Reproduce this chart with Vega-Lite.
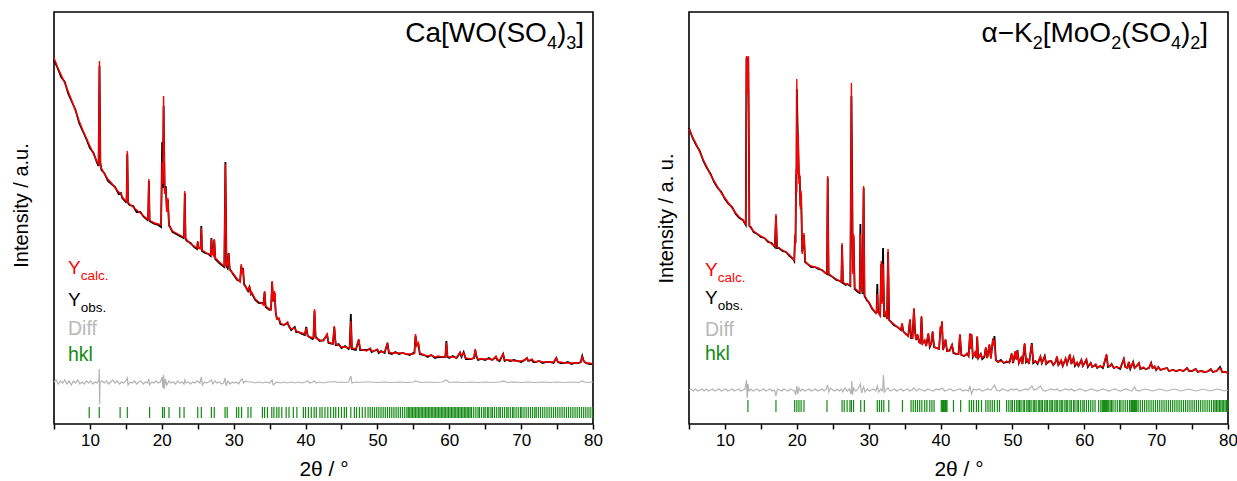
{
"$schema": "https://vega.github.io/schema/vega-lite/v6.json",
"padding": {"left": 10, "top": 11, "right": 5, "bottom": 0},
"spacing": 51,
"config": {"font": "Liberation Sans", "view": {"stroke": "black", "strokeWidth": 1.6},
 "axisX": {"values": [5,10,15,20,25,30,35,40,45,50,55,60,65,70,75,80], "labelExpr": "datum.value % 10 === 0 ? datum.label : ''", "labelFontSize": 17, "labelColor": "black", "tickColor": "black", "tickSize": 5, "tickWidth": 1.5, "domain": false, "grid": false, "labelPadding": 3, "labelFlush": false, "labelOverlap": false, "titleFontSize": 21, "titleFontWeight": "normal", "titleColor": "black", "titlePadding": 10},
 "axisY": {"labels": false, "ticks": false, "domain": false, "grid": false, "titleFontSize": 20, "titleFontWeight": "normal", "titleColor": "black"}},
"datasets": {
"Lc": [{"x":5.0,"c":366,"o":364},{"x":5.5,"c":357,"o":356},{"x":6.0,"c":349,"o":347},{"x":6.5,"c":341,"o":342},{"x":7.0,"c":332,"o":330},{"x":7.5,"c":323,"o":322},{"x":8.0,"c":313,"o":314},{"x":8.5,"c":303,"o":301},{"x":9.0,"c":294,"o":293},{"x":9.5,"c":286,"o":285},{"x":10.0,"c":278,"o":276},{"x":10.5,"c":270,"o":271},{"x":11.0,"c":262,"o":261},{"x":11.2,"c":260,"o":258},{"x":11.33,"c":363,"o":358},{"x":11.45,"c":258,"o":262},{"x":11.6,"c":256,"o":254},{"x":12.0,"c":250,"o":251},{"x":12.5,"c":245,"o":243},{"x":13.0,"c":241,"o":240},{"x":13.5,"c":236,"o":237},{"x":14.0,"c":232,"o":230},{"x":14.3,"c":230,"o":231},{"x":14.5,"c":227,"o":226},{"x":15.0,"c":223,"o":222},{"x":15.1,"c":223,"o":224},{"x":15.2,"c":273,"o":270},{"x":15.3,"c":222,"o":221},{"x":15.5,"c":220,"o":219},{"x":16.0,"c":217,"o":218},{"x":16.5,"c":214,"o":212},{"x":17.0,"c":211,"o":212},{"x":17.5,"c":208,"o":207},{"x":18.0,"c":205,"o":204},{"x":18.1,"c":205,"o":206},{"x":18.2,"c":245,"o":243},{"x":18.3,"c":204,"o":203},{"x":18.5,"c":203,"o":202},{"x":19.0,"c":201,"o":200},{"x":19.5,"c":200,"o":199},{"x":19.9,"c":199,"o":197},{"x":20.05,"c":262,"o":282},{"x":20.15,"c":240,"o":236},{"x":20.25,"c":328,"o":318},{"x":20.4,"c":230,"o":233},{"x":20.55,"c":236,"o":238},{"x":20.7,"c":212,"o":214},{"x":20.85,"c":226,"o":224},{"x":21.0,"c":198,"o":199},{"x":21.5,"c":193,"o":192},{"x":22.0,"c":191,"o":190},{"x":22.5,"c":189,"o":188},{"x":23.0,"c":187,"o":186},{"x":23.1,"c":187,"o":189},{"x":23.2,"c":233,"o":231},{"x":23.3,"c":186,"o":185},{"x":23.5,"c":184,"o":183},{"x":24.0,"c":180,"o":181},{"x":24.5,"c":178,"o":177},{"x":24.9,"c":176,"o":175},{"x":25.0,"c":183,"o":182},{"x":25.1,"c":176,"o":176},{"x":25.4,"c":175,"o":176},{"x":25.5,"c":196,"o":198},{"x":25.6,"c":174,"o":173},{"x":26.0,"c":172,"o":171},{"x":26.5,"c":170,"o":170},{"x":26.8,"c":169,"o":168},{"x":26.9,"c":185,"o":186},{"x":27.05,"c":170,"o":171},{"x":27.2,"c":168,"o":170},{"x":27.3,"c":185,"o":184},{"x":27.45,"c":166,"o":165},{"x":28.0,"c":162,"o":161},{"x":28.5,"c":159,"o":158},{"x":28.7,"c":158,"o":157},{"x":28.85,"c":260,"o":262},{"x":29.0,"c":160,"o":158},{"x":29.15,"c":158,"o":156},{"x":29.3,"c":170,"o":171},{"x":29.45,"c":154,"o":155},{"x":30.0,"c":150,"o":149},{"x":30.5,"c":145,"o":144},{"x":30.9,"c":142,"o":143},{"x":31.05,"c":160,"o":158},{"x":31.2,"c":150,"o":152},{"x":31.3,"c":155,"o":156},{"x":31.45,"c":139,"o":140},{"x":32.0,"c":134,"o":133},{"x":32.2,"c":138,"o":137},{"x":32.4,"c":129,"o":130},{"x":32.5,"c":132,"o":131},{"x":33.0,"c":125,"o":124},{"x":33.5,"c":122,"o":121},{"x":34.0,"c":120,"o":121},{"x":34.15,"c":119,"o":120},{"x":34.3,"c":133,"o":132},{"x":34.45,"c":118,"o":117},{"x":35.0,"c":115,"o":114},{"x":35.2,"c":114,"o":115},{"x":35.35,"c":143,"o":142},{"x":35.5,"c":122,"o":123},{"x":35.7,"c":133,"o":131},{"x":35.85,"c":112,"o":111},{"x":36.0,"c":105,"o":106},{"x":36.3,"c":106,"o":105},{"x":36.5,"c":101,"o":100},{"x":37.0,"c":99,"o":99},{"x":37.5,"c":102,"o":101},{"x":37.7,"c":97,"o":98},{"x":38.0,"c":95,"o":94},{"x":38.5,"c":96,"o":97},{"x":38.7,"c":93,"o":92},{"x":39.0,"c":92,"o":92},{"x":39.5,"c":91,"o":90},{"x":39.9,"c":90,"o":89},{"x":40.1,"c":96,"o":97},{"x":40.3,"c":88,"o":88},{"x":41.0,"c":86,"o":85},{"x":41.1,"c":87,"o":86},{"x":41.25,"c":115,"o":113},{"x":41.4,"c":86,"o":87},{"x":42.0,"c":84,"o":83},{"x":42.5,"c":83,"o":84},{"x":43.0,"c":90,"o":89},{"x":43.2,"c":82,"o":81},{"x":43.8,"c":80,"o":80},{"x":44.0,"c":98,"o":97},{"x":44.2,"c":80,"o":79},{"x":44.6,"c":79,"o":80},{"x":45.0,"c":77,"o":76},{"x":45.5,"c":77,"o":78},{"x":46.0,"c":76,"o":75},{"x":46.15,"c":76,"o":77},{"x":46.3,"c":103,"o":110},{"x":46.45,"c":76,"o":75},{"x":47.0,"c":75,"o":74},{"x":47.4,"c":85,"o":84},{"x":47.6,"c":75,"o":74},{"x":48.0,"c":74,"o":74},{"x":48.5,"c":73,"o":74},{"x":49.0,"c":76,"o":75},{"x":49.2,"c":73,"o":72},{"x":49.5,"c":73,"o":73},{"x":50.0,"c":75,"o":74},{"x":50.2,"c":72,"o":71},{"x":50.5,"c":72,"o":73},{"x":51.0,"c":72,"o":71},{"x":51.4,"c":80,"o":81},{"x":51.6,"c":72,"o":71},{"x":52.0,"c":71,"o":70},{"x":52.5,"c":71,"o":72},{"x":53.0,"c":71,"o":70},{"x":53.5,"c":71,"o":71},{"x":54.0,"c":70,"o":70},{"x":54.5,"c":70,"o":69},{"x":55.0,"c":70,"o":71},{"x":55.15,"c":71,"o":71},{"x":55.3,"c":90,"o":88},{"x":55.5,"c":78,"o":79},{"x":55.7,"c":81,"o":80},{"x":55.9,"c":71,"o":70},{"x":56.5,"c":69,"o":69},{"x":57.0,"c":68,"o":67},{"x":57.5,"c":69,"o":69},{"x":58.0,"c":67,"o":66},{"x":58.5,"c":68,"o":67},{"x":59.0,"c":67,"o":67},{"x":59.45,"c":67,"o":67},{"x":59.6,"c":81,"o":83},{"x":59.75,"c":68,"o":67},{"x":60.0,"c":67,"o":66},{"x":60.5,"c":67,"o":68},{"x":61.0,"c":66,"o":66},{"x":61.5,"c":72,"o":71},{"x":61.7,"c":68,"o":67},{"x":62.0,"c":71,"o":72},{"x":62.3,"c":66,"o":65},{"x":63.0,"c":65,"o":65},{"x":63.45,"c":66,"o":66},{"x":63.6,"c":75,"o":74},{"x":63.8,"c":68,"o":67},{"x":64.0,"c":65,"o":64},{"x":64.5,"c":65,"o":65},{"x":65.0,"c":65,"o":64},{"x":65.5,"c":65,"o":66},{"x":66.0,"c":64,"o":64},{"x":66.5,"c":68,"o":67},{"x":66.7,"c":64,"o":64},{"x":67.0,"c":64,"o":63},{"x":67.5,"c":70,"o":70},{"x":67.7,"c":64,"o":63},{"x":68.0,"c":64,"o":64},{"x":68.5,"c":64,"o":63},{"x":69.0,"c":63,"o":64},{"x":69.5,"c":63,"o":63},{"x":70.0,"c":63,"o":62},{"x":70.5,"c":64,"o":64},{"x":70.8,"c":66,"o":66},{"x":71.0,"c":63,"o":63},{"x":71.5,"c":65,"o":64},{"x":71.7,"c":63,"o":62},{"x":72.0,"c":62,"o":62},{"x":72.5,"c":63,"o":63},{"x":73.0,"c":62,"o":61},{"x":73.5,"c":62,"o":62},{"x":74.0,"c":62,"o":62},{"x":74.5,"c":62,"o":61},{"x":74.9,"c":66,"o":66},{"x":75.1,"c":62,"o":62},{"x":75.5,"c":62,"o":61},{"x":76.0,"c":61,"o":61},{"x":76.5,"c":61,"o":62},{"x":77.0,"c":61,"o":60},{"x":77.5,"c":61,"o":61},{"x":78.0,"c":61,"o":61},{"x":78.3,"c":62,"o":62},{"x":78.5,"c":67,"o":68},{"x":78.7,"c":63,"o":63},{"x":79.0,"c":61,"o":61},{"x":79.5,"c":61,"o":60},{"x":80.0,"c":60,"o":60}],
"Ld": [{"x":5.0,"d":42},{"x":5.3,"d":44},{"x":5.6,"d":40},{"x":5.9,"d":43},{"x":6.2,"d":41},{"x":6.5,"d":44},{"x":6.8,"d":40},{"x":7.1,"d":43},{"x":7.4,"d":39},{"x":7.7,"d":43},{"x":8.0,"d":41},{"x":8.3,"d":44},{"x":8.6,"d":40},{"x":8.9,"d":42},{"x":9.2,"d":40},{"x":9.5,"d":43},{"x":9.8,"d":41},{"x":10.1,"d":43},{"x":10.4,"d":40},{"x":10.7,"d":42},{"x":11.0,"d":41},{"x":11.25,"d":44},{"x":11.3,"d":55},{"x":11.35,"d":20},{"x":11.4,"d":42},{"x":11.7,"d":43},{"x":12.0,"d":41},{"x":12.3,"d":43},{"x":12.6,"d":40},{"x":12.9,"d":42},{"x":13.2,"d":44},{"x":13.5,"d":41},{"x":13.8,"d":43},{"x":14.1,"d":40},{"x":14.4,"d":42},{"x":14.7,"d":41},{"x":15.0,"d":43},{"x":15.2,"d":46},{"x":15.3,"d":39},{"x":15.6,"d":42},{"x":15.9,"d":41},{"x":16.2,"d":43},{"x":16.5,"d":40},{"x":16.8,"d":42},{"x":17.1,"d":43},{"x":17.4,"d":40},{"x":17.7,"d":42},{"x":18.0,"d":41},{"x":18.2,"d":45},{"x":18.3,"d":39},{"x":18.6,"d":42},{"x":18.9,"d":41},{"x":19.2,"d":43},{"x":19.5,"d":41},{"x":19.8,"d":42},{"x":20.05,"d":47},{"x":20.15,"d":36},{"x":20.25,"d":49},{"x":20.35,"d":35},{"x":20.5,"d":45},{"x":20.7,"d":39},{"x":21.0,"d":43},{"x":21.3,"d":41},{"x":21.6,"d":42},{"x":21.9,"d":40},{"x":22.2,"d":43},{"x":22.5,"d":41},{"x":22.8,"d":42},{"x":23.1,"d":40},{"x":23.2,"d":44},{"x":23.4,"d":41},{"x":23.7,"d":42},{"x":24.0,"d":40},{"x":24.3,"d":42},{"x":24.6,"d":41},{"x":24.9,"d":43},{"x":25.3,"d":41},{"x":25.5,"d":47},{"x":25.65,"d":39},{"x":25.9,"d":42},{"x":26.2,"d":41},{"x":26.5,"d":42},{"x":26.9,"d":44},{"x":27.1,"d":40},{"x":27.4,"d":43},{"x":27.7,"d":41},{"x":28.0,"d":42},{"x":28.3,"d":40},{"x":28.6,"d":41},{"x":28.8,"d":46},{"x":28.95,"d":38},{"x":29.2,"d":43},{"x":29.5,"d":40},{"x":29.8,"d":42},{"x":30.1,"d":41},{"x":30.4,"d":42},{"x":30.7,"d":40},{"x":31.0,"d":44},{"x":31.2,"d":45},{"x":31.4,"d":41},{"x":31.7,"d":43},{"x":32.0,"d":42},{"x":32.5,"d":42},{"x":33.0,"d":41},{"x":33.5,"d":42},{"x":34.0,"d":41},{"x":34.5,"d":42},{"x":35.0,"d":41},{"x":35.35,"d":44},{"x":35.5,"d":39},{"x":36.0,"d":42},{"x":36.5,"d":41},{"x":37.0,"d":42},{"x":37.5,"d":41},{"x":38.0,"d":42},{"x":38.5,"d":41},{"x":39.0,"d":42},{"x":39.5,"d":41},{"x":40.0,"d":42},{"x":40.3,"d":43},{"x":40.6,"d":41},{"x":41.0,"d":42},{"x":41.25,"d":43},{"x":41.5,"d":41},{"x":42.0,"d":42},{"x":42.5,"d":41},{"x":43.0,"d":42},{"x":43.5,"d":42},{"x":44.0,"d":42.5},{"x":44.5,"d":41.5},{"x":45.0,"d":42},{"x":45.5,"d":41.5},{"x":46.0,"d":42},{"x":46.3,"d":48},{"x":46.45,"d":41},{"x":47.0,"d":42},{"x":47.5,"d":41.5},{"x":48.0,"d":42},{"x":49.0,"d":42},{"x":50.0,"d":41.5},{"x":51.0,"d":42},{"x":52.0,"d":41.5},{"x":53.0,"d":42},{"x":54.0,"d":41.5},{"x":55.0,"d":42},{"x":55.3,"d":43},{"x":56.0,"d":41.5},{"x":57.0,"d":42},{"x":58.0,"d":41.5},{"x":59.0,"d":42},{"x":59.6,"d":44},{"x":60.0,"d":41.5},{"x":61.0,"d":42},{"x":62.0,"d":41.5},{"x":63.0,"d":42},{"x":64.0,"d":41.5},{"x":65.0,"d":42},{"x":66.0,"d":41.5},{"x":67.0,"d":42},{"x":67.6,"d":43},{"x":68.0,"d":41.5},{"x":69.0,"d":42},{"x":70.0,"d":41.5},{"x":71.0,"d":42},{"x":72.0,"d":41.5},{"x":73.0,"d":42},{"x":74.0,"d":41.5},{"x":75.0,"d":42},{"x":76.0,"d":41.5},{"x":77.0,"d":42},{"x":78.0,"d":41.5},{"x":78.5,"d":43},{"x":79.0,"d":41.5},{"x":80.0,"d":42}],
"Lh": [{"x":9.9},{"x":11.3},{"x":14.2},{"x":15.2},{"x":18.3},{"x":20.1},{"x":20.35},{"x":21.0},{"x":22.5},{"x":23.1},{"x":25.0},{"x":25.5},{"x":26.9},{"x":27.3},{"x":28.8},{"x":29.1},{"x":30.4},{"x":30.7},{"x":31.1},{"x":32.0},{"x":32.4},{"x":34.0},{"x":34.3},{"x":34.7},{"x":35.3},{"x":35.6},{"x":36.0},{"x":36.3},{"x":36.7},{"x":37.3},{"x":37.7},{"x":38.3},{"x":38.8},{"x":39.7},{"x":40.0},{"x":40.4},{"x":40.8},{"x":41.2},{"x":41.5},{"x":42.0},{"x":42.3},{"x":42.7},{"x":43.1},{"x":43.5},{"x":43.9},{"x":44.2},{"x":44.6},{"x":45.0},{"x":45.4},{"x":45.7},{"x":46.3},{"x":46.8},{"x":47.1},{"x":47.5},{"x":47.9},{"x":48.3},{"x":48.7},{"x":49.0},{"x":49.3},{"x":49.6},{"x":49.9},{"x":50.2},{"x":50.5},{"x":50.8},{"x":51.1},{"x":51.4},{"x":51.7},{"x":52.0},{"x":52.3},{"x":52.6},{"x":52.9},{"x":53.2},{"x":53.5},{"x":53.8},{"x":54.1},{"x":54.3},{"x":54.5},{"x":54.7},{"x":54.9},{"x":55.1},{"x":55.3},{"x":55.5},{"x":55.7},{"x":55.9},{"x":56.1},{"x":56.3},{"x":56.5},{"x":56.7},{"x":56.9},{"x":57.1},{"x":57.3},{"x":57.5},{"x":57.7},{"x":57.9},{"x":58.1},{"x":58.3},{"x":58.5},{"x":58.7},{"x":58.9},{"x":59.1},{"x":59.3},{"x":59.5},{"x":59.7},{"x":59.9},{"x":60.1},{"x":60.3},{"x":60.5},{"x":60.7},{"x":60.9},{"x":61.1},{"x":61.3},{"x":61.5},{"x":61.7},{"x":61.9},{"x":62.1},{"x":62.3},{"x":62.5},{"x":62.7},{"x":62.9},{"x":63.1},{"x":63.4},{"x":63.7},{"x":64.0},{"x":64.2},{"x":64.5},{"x":64.8},{"x":65.0},{"x":65.3},{"x":65.5},{"x":65.8},{"x":66.0},{"x":66.3},{"x":66.6},{"x":66.9},{"x":67.1},{"x":67.4},{"x":67.7},{"x":68.0},{"x":68.2},{"x":68.5},{"x":68.8},{"x":69.0},{"x":69.3},{"x":69.6},{"x":69.9},{"x":70.1},{"x":70.4},{"x":70.7},{"x":71.0},{"x":71.3},{"x":71.6},{"x":71.9},{"x":72.1},{"x":72.4},{"x":72.7},{"x":73.0},{"x":73.3},{"x":73.6},{"x":73.9},{"x":74.2},{"x":74.5},{"x":74.8},{"x":75.1},{"x":75.4},{"x":75.7},{"x":76.0},{"x":76.3},{"x":76.6},{"x":76.9},{"x":77.2},{"x":77.5},{"x":77.8},{"x":78.1},{"x":78.4},{"x":78.7},{"x":79.0},{"x":79.3},{"x":79.6},{"x":79.9}],
"Rc": [{"x":5.0,"c":295,"o":296},{"x":5.5,"c":287,"o":286},{"x":6.0,"c":280,"o":279},{"x":6.5,"c":272,"o":273},{"x":7.0,"c":264,"o":263},{"x":7.5,"c":257,"o":256},{"x":8.0,"c":249,"o":250},{"x":8.5,"c":243,"o":242},{"x":9.0,"c":237,"o":236},{"x":9.5,"c":231,"o":232},{"x":10.0,"c":226,"o":225},{"x":10.5,"c":221,"o":220},{"x":11.0,"c":216,"o":217},{"x":11.5,"c":211,"o":210},{"x":12.0,"c":207,"o":206},{"x":12.5,"c":204,"o":204},{"x":12.9,"c":200,"o":199},{"x":13.0,"c":368,"o":366},{"x":13.1,"c":330,"o":360},{"x":13.25,"c":368,"o":367},{"x":13.4,"c":199,"o":198},{"x":13.6,"c":196,"o":197},{"x":14.0,"c":193,"o":192},{"x":14.5,"c":190,"o":190},{"x":15.0,"c":188,"o":187},{"x":15.5,"c":186,"o":186},{"x":16.0,"c":183,"o":182},{"x":16.5,"c":180,"o":181},{"x":16.95,"c":178,"o":177},{"x":17.1,"c":210,"o":208},{"x":17.25,"c":177,"o":176},{"x":17.5,"c":176,"o":176},{"x":18.0,"c":174,"o":173},{"x":18.5,"c":172,"o":172},{"x":19.0,"c":169,"o":168},{"x":19.5,"c":165,"o":165},{"x":19.65,"c":164,"o":163},{"x":19.75,"c":190,"o":188},{"x":19.82,"c":180,"o":181},{"x":19.9,"c":255,"o":250},{"x":19.95,"c":230,"o":232},{"x":20.0,"c":345,"o":335},{"x":20.1,"c":250,"o":300},{"x":20.2,"c":290,"o":275},{"x":20.3,"c":240,"o":245},{"x":20.4,"c":250,"o":248},{"x":20.5,"c":215,"o":218},{"x":20.6,"c":233,"o":230},{"x":20.75,"c":170,"o":172},{"x":21.0,"c":191,"o":189},{"x":21.15,"c":163,"o":162},{"x":21.5,"c":160,"o":160},{"x":22.0,"c":158,"o":157},{"x":22.5,"c":157,"o":157},{"x":23.0,"c":156,"o":155},{"x":23.5,"c":154,"o":154},{"x":24.0,"c":151,"o":151},{"x":24.2,"c":151,"o":150},{"x":24.3,"c":248,"o":246},{"x":24.42,"c":150,"o":151},{"x":24.5,"c":150,"o":149},{"x":25.0,"c":147,"o":147},{"x":25.5,"c":145,"o":144},{"x":26.0,"c":143,"o":143},{"x":26.2,"c":142,"o":142},{"x":26.3,"c":181,"o":179},{"x":26.42,"c":142,"o":141},{"x":26.8,"c":140,"o":139},{"x":27.0,"c":140,"o":140},{"x":27.45,"c":139,"o":138},{"x":27.6,"c":341,"o":328},{"x":27.72,"c":200,"o":230},{"x":27.8,"c":150,"o":152},{"x":27.9,"c":190,"o":188},{"x":28.05,"c":136,"o":135},{"x":28.5,"c":133,"o":132},{"x":28.75,"c":132,"o":131},{"x":28.85,"c":190,"o":200},{"x":28.95,"c":140,"o":141},{"x":29.15,"c":131,"o":130},{"x":29.3,"c":238,"o":236},{"x":29.42,"c":129,"o":128},{"x":29.8,"c":124,"o":123},{"x":30.0,"c":122,"o":122},{"x":30.5,"c":116,"o":115},{"x":31.0,"c":111,"o":111},{"x":31.1,"c":112,"o":113},{"x":31.2,"c":130,"o":140},{"x":31.3,"c":112,"o":112},{"x":31.6,"c":108,"o":109},{"x":31.75,"c":163,"o":160},{"x":31.85,"c":120,"o":122},{"x":32.0,"c":160,"o":176},{"x":32.15,"c":108,"o":107},{"x":32.35,"c":113,"o":112},{"x":32.55,"c":105,"o":105},{"x":32.7,"c":175,"o":172},{"x":32.85,"c":104,"o":104},{"x":33.0,"c":103,"o":103},{"x":33.5,"c":100,"o":99},{"x":34.0,"c":97,"o":97},{"x":34.5,"c":94,"o":94},{"x":34.65,"c":101,"o":100},{"x":34.8,"c":93,"o":93},{"x":35.0,"c":91,"o":91},{"x":35.5,"c":88,"o":88},{"x":35.75,"c":105,"o":104},{"x":35.9,"c":87,"o":86},{"x":36.1,"c":86,"o":86},{"x":36.3,"c":116,"o":115},{"x":36.45,"c":92,"o":93},{"x":36.6,"c":84,"o":84},{"x":36.8,"c":90,"o":89},{"x":37.0,"c":82,"o":82},{"x":37.2,"c":81,"o":81},{"x":37.35,"c":108,"o":107},{"x":37.5,"c":80,"o":81},{"x":37.8,"c":84,"o":83},{"x":38.0,"c":78,"o":78},{"x":38.3,"c":91,"o":90},{"x":38.5,"c":78,"o":77},{"x":38.7,"c":80,"o":80},{"x":38.9,"c":93,"o":92},{"x":39.1,"c":77,"o":77},{"x":39.45,"c":76,"o":76},{"x":39.8,"c":75,"o":75},{"x":40.0,"c":98,"o":97},{"x":40.1,"c":90,"o":91},{"x":40.2,"c":103,"o":102},{"x":40.35,"c":74,"o":74},{"x":40.7,"c":85,"o":84},{"x":40.9,"c":73,"o":73},{"x":41.3,"c":73,"o":74},{"x":41.6,"c":80,"o":79},{"x":41.8,"c":72,"o":71},{"x":42.2,"c":70,"o":70},{"x":42.5,"c":70,"o":70},{"x":42.7,"c":90,"o":89},{"x":42.9,"c":69,"o":69},{"x":43.3,"c":68,"o":68},{"x":43.7,"c":71,"o":70},{"x":43.9,"c":68,"o":68},{"x":44.1,"c":91,"o":90},{"x":44.2,"c":75,"o":77},{"x":44.3,"c":90,"o":90},{"x":44.5,"c":67,"o":67},{"x":44.8,"c":72,"o":71},{"x":45.0,"c":66,"o":66},{"x":45.1,"c":88,"o":87},{"x":45.25,"c":66,"o":66},{"x":45.6,"c":70,"o":70},{"x":45.8,"c":66,"o":65},{"x":46.1,"c":68,"o":67},{"x":46.3,"c":77,"o":76},{"x":46.5,"c":66,"o":66},{"x":46.8,"c":80,"o":79},{"x":47.0,"c":65,"o":66},{"x":47.3,"c":86,"o":85},{"x":47.4,"c":78,"o":80},{"x":47.5,"c":84,"o":88},{"x":47.7,"c":64,"o":64},{"x":48.0,"c":62,"o":62},{"x":48.4,"c":63,"o":64},{"x":48.8,"c":61,"o":61},{"x":49.2,"c":63,"o":62},{"x":49.6,"c":61,"o":62},{"x":49.9,"c":71,"o":70},{"x":50.1,"c":62,"o":61},{"x":50.4,"c":73,"o":72},{"x":50.55,"c":64,"o":65},{"x":50.7,"c":73,"o":74},{"x":50.9,"c":61,"o":61},{"x":51.2,"c":66,"o":66},{"x":51.4,"c":60,"o":60},{"x":51.7,"c":81,"o":80},{"x":51.9,"c":63,"o":62},{"x":52.1,"c":65,"o":64},{"x":52.3,"c":60,"o":60},{"x":52.7,"c":80,"o":81},{"x":52.9,"c":62,"o":61},{"x":53.2,"c":63,"o":63},{"x":53.5,"c":61,"o":60},{"x":53.9,"c":68,"o":67},{"x":54.1,"c":61,"o":61},{"x":54.5,"c":67,"o":68},{"x":54.7,"c":60,"o":60},{"x":55.0,"c":63,"o":62},{"x":55.4,"c":63,"o":63},{"x":55.7,"c":59,"o":59},{"x":56.0,"c":62,"o":62},{"x":56.2,"c":68,"o":67},{"x":56.4,"c":59,"o":59},{"x":56.8,"c":64,"o":63},{"x":57.0,"c":58,"o":58},{"x":57.4,"c":66,"o":65},{"x":57.6,"c":60,"o":60},{"x":58.0,"c":70,"o":69},{"x":58.2,"c":60,"o":60},{"x":58.5,"c":66,"o":66},{"x":58.7,"c":59,"o":58},{"x":59.0,"c":62,"o":61},{"x":59.2,"c":58,"o":58},{"x":59.6,"c":64,"o":64},{"x":59.8,"c":58,"o":58},{"x":60.3,"c":65,"o":64},{"x":60.5,"c":58,"o":57},{"x":60.9,"c":61,"o":61},{"x":61.1,"c":57,"o":57},{"x":61.6,"c":60,"o":59},{"x":61.8,"c":56,"o":56},{"x":62.2,"c":58,"o":58},{"x":62.6,"c":57,"o":56},{"x":63.1,"c":70,"o":69},{"x":63.3,"c":58,"o":57},{"x":63.6,"c":58,"o":58},{"x":63.8,"c":60,"o":60},{"x":64.1,"c":56,"o":56},{"x":64.5,"c":57,"o":57},{"x":65.0,"c":56,"o":55},{"x":65.5,"c":65,"o":65},{"x":65.7,"c":57,"o":57},{"x":66.0,"c":56,"o":56},{"x":66.2,"c":62,"o":62},{"x":66.4,"c":56,"o":55},{"x":66.8,"c":62,"o":62},{"x":67.0,"c":56,"o":56},{"x":67.3,"c":58,"o":58},{"x":67.6,"c":61,"o":61},{"x":67.8,"c":55,"o":55},{"x":68.2,"c":57,"o":56},{"x":68.6,"c":55,"o":55},{"x":69.0,"c":56,"o":56},{"x":69.3,"c":61,"o":61},{"x":69.5,"c":56,"o":56},{"x":69.8,"c":58,"o":57},{"x":70.0,"c":54,"o":54},{"x":70.3,"c":57,"o":57},{"x":70.6,"c":54,"o":54},{"x":71.0,"c":55,"o":55},{"x":71.5,"c":56,"o":56},{"x":71.8,"c":53,"o":53},{"x":72.3,"c":54,"o":54},{"x":72.8,"c":53,"o":53},{"x":73.3,"c":54,"o":54},{"x":73.8,"c":53,"o":53},{"x":74.3,"c":56,"o":56},{"x":74.6,"c":53,"o":53},{"x":75.0,"c":53,"o":53},{"x":75.5,"c":55,"o":55},{"x":75.8,"c":52,"o":52},{"x":76.2,"c":53,"o":53},{"x":76.8,"c":52,"o":52},{"x":77.3,"c":53,"o":53},{"x":77.6,"c":55,"o":55},{"x":77.9,"c":52,"o":52},{"x":78.4,"c":53,"o":53},{"x":78.9,"c":56,"o":57},{"x":79.2,"c":52,"o":52},{"x":79.6,"c":52,"o":52},{"x":80.0,"c":51,"o":51}],
"Rd": [{"x":5.0,"d":34},{"x":5.3,"d":35},{"x":5.6,"d":33},{"x":5.9,"d":35},{"x":6.2,"d":33},{"x":6.5,"d":34},{"x":6.8,"d":35},{"x":7.1,"d":33},{"x":7.4,"d":35},{"x":7.7,"d":33},{"x":8.0,"d":34},{"x":8.3,"d":35},{"x":8.6,"d":33},{"x":8.9,"d":34},{"x":9.2,"d":35},{"x":9.5,"d":33},{"x":9.8,"d":34},{"x":10.1,"d":35},{"x":10.4,"d":33},{"x":10.7,"d":34},{"x":11.0,"d":35},{"x":11.3,"d":33},{"x":11.6,"d":34},{"x":11.9,"d":35},{"x":12.2,"d":33},{"x":12.5,"d":34},{"x":12.8,"d":35},{"x":13.0,"d":44},{"x":13.1,"d":26},{"x":13.2,"d":40},{"x":13.35,"d":33},{"x":13.6,"d":35},{"x":13.9,"d":33},{"x":14.2,"d":34},{"x":14.5,"d":35},{"x":14.8,"d":33},{"x":15.1,"d":34},{"x":15.4,"d":35},{"x":15.7,"d":33},{"x":16.0,"d":34},{"x":16.3,"d":35},{"x":16.6,"d":33},{"x":16.9,"d":34},{"x":17.1,"d":28},{"x":17.3,"d":35},{"x":17.6,"d":34},{"x":17.9,"d":33},{"x":18.2,"d":35},{"x":18.5,"d":34},{"x":18.8,"d":33},{"x":19.1,"d":35},{"x":19.4,"d":34},{"x":19.7,"d":33},{"x":19.85,"d":29},{"x":20.0,"d":38},{"x":20.15,"d":30},{"x":20.3,"d":36},{"x":20.5,"d":33},{"x":20.8,"d":35},{"x":21.1,"d":33},{"x":21.4,"d":34},{"x":21.7,"d":35},{"x":22.0,"d":33},{"x":22.3,"d":34},{"x":22.6,"d":35},{"x":22.9,"d":33},{"x":23.2,"d":34},{"x":23.5,"d":35},{"x":23.8,"d":33},{"x":24.1,"d":35},{"x":24.3,"d":39},{"x":24.45,"d":32},{"x":24.7,"d":36},{"x":25.0,"d":34},{"x":25.3,"d":33},{"x":25.6,"d":35},{"x":25.9,"d":33},{"x":26.2,"d":35},{"x":26.4,"d":32},{"x":26.7,"d":36},{"x":27.0,"d":33},{"x":27.3,"d":35},{"x":27.55,"d":30},{"x":27.65,"d":43},{"x":27.75,"d":29},{"x":27.9,"d":36},{"x":28.2,"d":33},{"x":28.5,"d":35},{"x":28.85,"d":40},{"x":29.0,"d":31},{"x":29.3,"d":37},{"x":29.5,"d":32},{"x":29.8,"d":35},{"x":30.1,"d":33},{"x":30.4,"d":34},{"x":30.7,"d":35},{"x":31.0,"d":33},{"x":31.2,"d":38},{"x":31.4,"d":32},{"x":31.7,"d":35},{"x":31.95,"d":33},{"x":32.05,"d":49},{"x":32.2,"d":32},{"x":32.5,"d":35},{"x":32.7,"d":36},{"x":33.0,"d":33},{"x":33.3,"d":34},{"x":33.6,"d":35},{"x":33.9,"d":33},{"x":34.2,"d":34},{"x":34.5,"d":35},{"x":34.8,"d":33},{"x":35.1,"d":34},{"x":35.4,"d":35},{"x":35.7,"d":33},{"x":36.0,"d":34},{"x":36.3,"d":36},{"x":36.6,"d":33},{"x":37.0,"d":35},{"x":37.4,"d":34},{"x":37.8,"d":33},{"x":38.2,"d":35},{"x":38.6,"d":34},{"x":39.0,"d":33},{"x":39.4,"d":35},{"x":39.8,"d":34},{"x":40.2,"d":36},{"x":40.6,"d":33},{"x":41.0,"d":34},{"x":41.4,"d":35},{"x":41.8,"d":33},{"x":42.2,"d":34},{"x":42.7,"d":35},{"x":43.1,"d":33},{"x":43.5,"d":34},{"x":43.9,"d":33},{"x":44.1,"d":38},{"x":44.3,"d":30},{"x":44.6,"d":35},{"x":45.0,"d":34},{"x":45.4,"d":35},{"x":45.8,"d":33},{"x":46.2,"d":34},{"x":46.6,"d":35},{"x":47.0,"d":34},{"x":47.3,"d":37},{"x":47.5,"d":39},{"x":47.8,"d":34},{"x":48.2,"d":33},{"x":48.6,"d":35},{"x":49.0,"d":34},{"x":49.4,"d":33},{"x":49.8,"d":35},{"x":50.2,"d":34},{"x":50.6,"d":35},{"x":51.0,"d":33},{"x":51.4,"d":34},{"x":51.8,"d":35},{"x":52.2,"d":34},{"x":52.7,"d":38},{"x":53.0,"d":34},{"x":53.4,"d":35},{"x":53.9,"d":38},{"x":54.2,"d":34},{"x":54.6,"d":33},{"x":55.0,"d":34},{"x":55.4,"d":35},{"x":55.8,"d":34},{"x":56.2,"d":35},{"x":56.6,"d":33},{"x":57.0,"d":34},{"x":57.4,"d":35},{"x":57.8,"d":34},{"x":58.2,"d":35},{"x":58.6,"d":33},{"x":59.0,"d":34},{"x":59.4,"d":35},{"x":59.8,"d":34},{"x":60.2,"d":33},{"x":60.6,"d":34},{"x":61.0,"d":35},{"x":61.4,"d":34},{"x":61.8,"d":33},{"x":62.2,"d":34},{"x":62.6,"d":35},{"x":63.0,"d":34},{"x":63.4,"d":33},{"x":63.8,"d":34},{"x":64.2,"d":35},{"x":64.6,"d":34},{"x":65.0,"d":33},{"x":65.4,"d":34},{"x":65.8,"d":35},{"x":66.2,"d":34},{"x":66.6,"d":33},{"x":67.0,"d":37},{"x":67.2,"d":34},{"x":67.6,"d":33},{"x":68.0,"d":34},{"x":68.5,"d":35},{"x":69.0,"d":34},{"x":69.5,"d":33},{"x":70.0,"d":34},{"x":70.5,"d":35},{"x":71.0,"d":34},{"x":71.5,"d":33},{"x":72.0,"d":34},{"x":72.5,"d":35},{"x":73.0,"d":34},{"x":73.5,"d":33},{"x":74.0,"d":34},{"x":74.5,"d":35},{"x":75.0,"d":34},{"x":75.5,"d":33},{"x":76.0,"d":34},{"x":76.5,"d":35},{"x":77.0,"d":34},{"x":77.5,"d":33},{"x":78.0,"d":34},{"x":78.5,"d":35},{"x":79.0,"d":34},{"x":79.5,"d":33},{"x":80.0,"d":34}],
"Rh": [{"x":13.2},{"x":17.1},{"x":19.7},{"x":20.0},{"x":20.3},{"x":20.6},{"x":21.0},{"x":24.2},{"x":26.3},{"x":26.6},{"x":27.0},{"x":27.4},{"x":27.6},{"x":27.9},{"x":28.9},{"x":29.4},{"x":31.2},{"x":31.5},{"x":31.8},{"x":32.1},{"x":32.8},{"x":34.7},{"x":35.9},{"x":36.2},{"x":36.5},{"x":36.8},{"x":37.1},{"x":37.4},{"x":37.8},{"x":38.1},{"x":38.5},{"x":38.8},{"x":39.1},{"x":40.1},{"x":40.2},{"x":40.3},{"x":40.4},{"x":40.5},{"x":40.6},{"x":40.7},{"x":40.8},{"x":40.9},{"x":41.8},{"x":42.8},{"x":44.0},{"x":44.3},{"x":44.6},{"x":45.0},{"x":45.3},{"x":45.7},{"x":46.3},{"x":46.6},{"x":46.9},{"x":47.2},{"x":47.5},{"x":47.9},{"x":48.2},{"x":49.2},{"x":49.5},{"x":49.8},{"x":50.0},{"x":50.3},{"x":50.6},{"x":50.8},{"x":51.0},{"x":51.2},{"x":51.5},{"x":51.7},{"x":52.0},{"x":52.2},{"x":52.4},{"x":52.6},{"x":52.9},{"x":53.1},{"x":53.3},{"x":53.6},{"x":53.8},{"x":54.0},{"x":54.2},{"x":54.5},{"x":54.7},{"x":54.9},{"x":55.2},{"x":55.4},{"x":55.6},{"x":55.9},{"x":56.1},{"x":56.3},{"x":56.6},{"x":56.8},{"x":57.0},{"x":57.3},{"x":57.5},{"x":57.7},{"x":58.0},{"x":58.2},{"x":58.5},{"x":58.7},{"x":59.0},{"x":59.2},{"x":59.5},{"x":59.8},{"x":60.0},{"x":60.3},{"x":60.6},{"x":60.9},{"x":61.2},{"x":61.5},{"x":62.0},{"x":62.3},{"x":62.5},{"x":62.6},{"x":62.7},{"x":62.8},{"x":62.9},{"x":63.0},{"x":63.1},{"x":63.2},{"x":63.4},{"x":63.6},{"x":63.8},{"x":64.0},{"x":64.3},{"x":64.6},{"x":64.9},{"x":65.1},{"x":65.4},{"x":65.7},{"x":66.0},{"x":66.3},{"x":66.5},{"x":66.6},{"x":66.7},{"x":66.8},{"x":66.9},{"x":67.0},{"x":67.1},{"x":67.2},{"x":67.3},{"x":67.5},{"x":67.8},{"x":68.1},{"x":68.4},{"x":68.7},{"x":69.0},{"x":69.3},{"x":69.6},{"x":69.9},{"x":70.2},{"x":70.5},{"x":70.8},{"x":71.1},{"x":71.4},{"x":71.7},{"x":72.0},{"x":72.3},{"x":72.6},{"x":72.9},{"x":73.2},{"x":73.5},{"x":73.8},{"x":74.1},{"x":74.4},{"x":74.7},{"x":75.0},{"x":75.3},{"x":75.6},{"x":75.9},{"x":76.2},{"x":76.5},{"x":76.8},{"x":77.1},{"x":77.4},{"x":77.7},{"x":78.0},{"x":78.2},{"x":78.4},{"x":78.6},{"x":78.8},{"x":79.0},{"x":79.2},{"x":79.4},{"x":79.6},{"x":79.8},{"x":80.0}]
},
"hconcat": [
{
"width": 539, "height": 412,
"layer": [
 {"data": {"name": "Ld"}, "mark": {"type": "line", "color": "#b3b3b3", "strokeWidth": 1.2}, "encoding": {
   "x": {"field": "x", "type": "quantitative", "title": "2θ / °", "scale": {"domain": [5, 80], "nice": false, "zero": false}},
   "y": {"field": "d", "type": "quantitative", "title": "Intensity / a.u.", "scale": {"domain": [0, 412], "nice": false, "zero": false}, "axis": {"titlePadding": 23, "titleY": 193}}}},
 {"data": {"name": "Lh"}, "mark": {"type": "rule", "color": "#138a13", "strokeWidth": 1.2}, "encoding": {
   "x": {"field": "x", "type": "quantitative", "title": "2θ / °"}, "y": {"datum": 6}, "y2": {"datum": 17}}},
 {"data": {"name": "Lc"}, "mark": {"type": "line", "color": "black", "strokeWidth": 1.8}, "encoding": {
   "x": {"field": "x", "type": "quantitative", "title": "2θ / °"}, "y": {"field": "o", "type": "quantitative", "title": "Intensity / a.u."}}},
 {"data": {"name": "Lc"}, "mark": {"type": "line", "color": "#ff0000", "strokeWidth": 1.4}, "encoding": {
   "x": {"field": "x", "type": "quantitative", "title": "2θ / °"}, "y": {"field": "c", "type": "quantitative", "title": "Intensity / a.u."}}},
 {"data": {"values": [{}]}, "mark": {"type": "text", "text": "Y", "color": "#ff0000", "fontSize": 19, "align": "left", "baseline": "alphabetic"}, "encoding": {"x": {"datum": 6.95}, "y": {"datum": 150}}},
 {"data": {"values": [{}]}, "mark": {"type": "text", "text": "calc.", "color": "#ff0000", "fontSize": 13.5, "align": "left", "baseline": "alphabetic", "dx": 12.7, "dy": 6}, "encoding": {"x": {"datum": 6.95}, "y": {"datum": 150}}},
 {"data": {"values": [{}]}, "mark": {"type": "text", "text": "Y", "color": "black", "fontSize": 19, "align": "left", "baseline": "alphabetic"}, "encoding": {"x": {"datum": 6.95}, "y": {"datum": 118}}},
 {"data": {"values": [{}]}, "mark": {"type": "text", "text": "obs.", "color": "black", "fontSize": 13.5, "align": "left", "baseline": "alphabetic", "dx": 12.7, "dy": 6}, "encoding": {"x": {"datum": 6.95}, "y": {"datum": 118}}},
 {"data": {"values": [{}]}, "mark": {"type": "text", "text": "Diff", "color": "#b8b8b8", "fontSize": 19.5, "align": "left", "baseline": "alphabetic"}, "encoding": {"x": {"datum": 6.95}, "y": {"datum": 89}}},
 {"data": {"values": [{}]}, "mark": {"type": "text", "text": "hkl", "color": "#138a13", "fontSize": 19.5, "align": "left", "baseline": "alphabetic"}, "encoding": {"x": {"datum": 6.95}, "y": {"datum": 63}}},
 {"data": {"values": [{}]}, "mark": {"type": "text", "text": "Ca[WO(SO", "color": "black", "fontSize": 28, "align": "left", "baseline": "alphabetic"}, "encoding": {"x": {"datum": 53.88}, "y": {"datum": 382}}},
 {"data": {"values": [{}]}, "mark": {"type": "text", "text": "4", "color": "black", "fontSize": 18, "align": "left", "baseline": "alphabetic", "dx": 141.6, "dy": 7}, "encoding": {"x": {"datum": 53.88}, "y": {"datum": 382}}},
 {"data": {"values": [{}]}, "mark": {"type": "text", "text": ")", "color": "black", "fontSize": 28, "align": "left", "baseline": "alphabetic", "dx": 151.6}, "encoding": {"x": {"datum": 53.88}, "y": {"datum": 382}}},
 {"data": {"values": [{}]}, "mark": {"type": "text", "text": "3", "color": "black", "fontSize": 18, "align": "left", "baseline": "alphabetic", "dx": 160.9, "dy": 7}, "encoding": {"x": {"datum": 53.88}, "y": {"datum": 382}}},
 {"data": {"values": [{}]}, "mark": {"type": "text", "text": "]", "color": "black", "fontSize": 28, "align": "left", "baseline": "alphabetic", "dx": 170.9}, "encoding": {"x": {"datum": 53.88}, "y": {"datum": 382}}}
]
},
{
"width": 539, "height": 412,
"layer": [
 {"data": {"name": "Rd"}, "mark": {"type": "line", "color": "#b3b3b3", "strokeWidth": 1.2}, "encoding": {
   "x": {"field": "x", "type": "quantitative", "title": "2θ / °", "scale": {"domain": [5, 80], "nice": false, "zero": false}},
   "y": {"field": "d", "type": "quantitative", "title": "Intensity / a. u.", "scale": {"domain": [0, 412], "nice": false, "zero": false}, "axis": {"titlePadding": 13}}}},
 {"data": {"name": "Rh"}, "mark": {"type": "rule", "color": "#138a13", "strokeWidth": 1.2}, "encoding": {
   "x": {"field": "x", "type": "quantitative", "title": "2θ / °"}, "y": {"datum": 12}, "y2": {"datum": 24}}},
 {"data": {"name": "Rc"}, "mark": {"type": "line", "color": "black", "strokeWidth": 1.8}, "encoding": {
   "x": {"field": "x", "type": "quantitative", "title": "2θ / °"}, "y": {"field": "o", "type": "quantitative", "title": "Intensity / a. u."}}},
 {"data": {"name": "Rc"}, "mark": {"type": "line", "color": "#ff0000", "strokeWidth": 1.4}, "encoding": {
   "x": {"field": "x", "type": "quantitative", "title": "2θ / °"}, "y": {"field": "c", "type": "quantitative", "title": "Intensity / a. u."}}},
 {"data": {"values": [{}]}, "mark": {"type": "text", "text": "Y", "color": "#ff0000", "fontSize": 19, "align": "left", "baseline": "alphabetic"}, "encoding": {"x": {"datum": 7.23}, "y": {"datum": 148}}},
 {"data": {"values": [{}]}, "mark": {"type": "text", "text": "calc.", "color": "#ff0000", "fontSize": 13.5, "align": "left", "baseline": "alphabetic", "dx": 12.7, "dy": 6}, "encoding": {"x": {"datum": 7.23}, "y": {"datum": 148}}},
 {"data": {"values": [{}]}, "mark": {"type": "text", "text": "Y", "color": "black", "fontSize": 19, "align": "left", "baseline": "alphabetic"}, "encoding": {"x": {"datum": 7.23}, "y": {"datum": 120}}},
 {"data": {"values": [{}]}, "mark": {"type": "text", "text": "obs.", "color": "black", "fontSize": 13.5, "align": "left", "baseline": "alphabetic", "dx": 12.7, "dy": 6}, "encoding": {"x": {"datum": 7.23}, "y": {"datum": 120}}},
 {"data": {"values": [{}]}, "mark": {"type": "text", "text": "Diff", "color": "#b8b8b8", "fontSize": 19.5, "align": "left", "baseline": "alphabetic"}, "encoding": {"x": {"datum": 7.23}, "y": {"datum": 88}}},
 {"data": {"values": [{}]}, "mark": {"type": "text", "text": "hkl", "color": "#138a13", "fontSize": 19.5, "align": "left", "baseline": "alphabetic"}, "encoding": {"x": {"datum": 7.23}, "y": {"datum": 64}}},
 {"data": {"values": [{}]}, "mark": {"type": "text", "text": "α−K", "color": "black", "fontSize": 28, "align": "left", "baseline": "alphabetic"}, "encoding": {"x": {"datum": 45.7}, "y": {"datum": 382}}},
 {"data": {"values": [{}]}, "mark": {"type": "text", "text": "2", "color": "black", "fontSize": 18, "align": "left", "baseline": "alphabetic", "dx": 51.2, "dy": 7}, "encoding": {"x": {"datum": 45.7}, "y": {"datum": 382}}},
 {"data": {"values": [{}]}, "mark": {"type": "text", "text": "[MoO", "color": "black", "fontSize": 28, "align": "left", "baseline": "alphabetic", "dx": 61.2}, "encoding": {"x": {"datum": 45.7}, "y": {"datum": 382}}},
 {"data": {"values": [{}]}, "mark": {"type": "text", "text": "2", "color": "black", "fontSize": 18, "align": "left", "baseline": "alphabetic", "dx": 129.65, "dy": 7}, "encoding": {"x": {"datum": 45.7}, "y": {"datum": 382}}},
 {"data": {"values": [{}]}, "mark": {"type": "text", "text": "(SO", "color": "black", "fontSize": 28, "align": "left", "baseline": "alphabetic", "dx": 139.65}, "encoding": {"x": {"datum": 45.7}, "y": {"datum": 382}}},
 {"data": {"values": [{}]}, "mark": {"type": "text", "text": "4", "color": "black", "fontSize": 18, "align": "left", "baseline": "alphabetic", "dx": 189.43, "dy": 7}, "encoding": {"x": {"datum": 45.7}, "y": {"datum": 382}}},
 {"data": {"values": [{}]}, "mark": {"type": "text", "text": ")", "color": "black", "fontSize": 28, "align": "left", "baseline": "alphabetic", "dx": 199.43}, "encoding": {"x": {"datum": 45.7}, "y": {"datum": 382}}},
 {"data": {"values": [{}]}, "mark": {"type": "text", "text": "2", "color": "black", "fontSize": 18, "align": "left", "baseline": "alphabetic", "dx": 208.75, "dy": 7}, "encoding": {"x": {"datum": 45.7}, "y": {"datum": 382}}},
 {"data": {"values": [{}]}, "mark": {"type": "text", "text": "]", "color": "black", "fontSize": 28, "align": "left", "baseline": "alphabetic", "dx": 218.75}, "encoding": {"x": {"datum": 45.7}, "y": {"datum": 382}}}
]
}
]
}
